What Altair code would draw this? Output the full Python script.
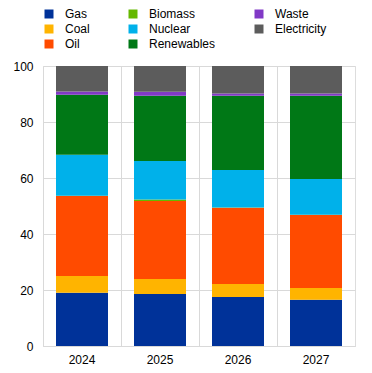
import altair as alt
import pandas as pd

years = ["2024", "2025", "2026", "2027"]
sources = ["Gas", "Coal", "Oil", "Biomass", "Nuclear", "Renewables", "Waste", "Electricity"]
colors = ["#003299", "#FFB400", "#FF4B00", "#65B800", "#00B1EA", "#007816", "#8139C6", "#5C5C5C"]

gas = [19.0, 18.6, 17.5, 16.5]
coal = [6.0, 5.3, 4.6, 4.2]
oil = [28.6, 27.9, 27.3, 26.1]
biomass = [0.1, 0.5, 0.1, 0.1]
nuclear = [14.6, 13.8, 13.4, 12.7]
renewables = [21.4, 23.3, 26.5, 29.8]
waste = [1.2, 1.4, 0.8, 0.8]
electricity = [9.1, 9.2, 9.8, 9.8]

series = [gas, coal, oil, biomass, nuclear, renewables, waste, electricity]
rows = []
for si, (name, vals) in enumerate(zip(sources, series)):
    for y, v in zip(years, vals):
        rows.append({"year": y, "source": name, "value": v, "order": si})
df = pd.DataFrame(rows)

font = "Liberation Sans"

chart = alt.Chart(df).mark_bar(width=alt.RelativeBandSize(52 / 78)).encode(
    x=alt.X("year:N", title=None, sort=years,
            scale=alt.Scale(paddingInner=0, paddingOuter=0),
            axis=alt.Axis(labelAngle=0, ticks=False, grid=True, bandPosition=0,
                          gridColor="#d9d9d9", domainColor="#d9d9d9",
                          labelPadding=8, labelFontSize=12, labelFont=font,
                          labelColor="#000000")),
    y=alt.Y("value:Q", title=None, stack="zero",
            scale=alt.Scale(domain=[0, 100], nice=False),
            axis=alt.Axis(values=[0, 20, 40, 60, 80, 100], ticks=False, domain=False,
                          gridColor="#d9d9d9", labelPadding=10, labelFontSize=12,
                          labelFont=font, labelColor="#000000")),
    color=alt.Color("source:N", sort=sources,
                    scale=alt.Scale(domain=sources, range=colors),
                    legend=alt.Legend(title=None, orient="none", legendX=0, legendY=-58,
                                      columns=3, columnPadding=37, rowPadding=3,
                                      direction="vertical",
                                      symbolType="square", symbolSize=81,
                                      symbolStrokeWidth=0, labelOffset=10,
                                      labelFontSize=12, labelFont=font,
                                      labelColor="#000000")),
    order=alt.Order("order:Q", sort="ascending"),
).properties(
    width=312, height=280,
    autosize=alt.AutoSizeParams(type="none"),
    padding={"left": 35, "top": 58, "right": 9, "bottom": 19},
).configure_view(stroke="#d9d9d9").configure(background="white")

chart.save("out.html", embed_options={"renderer": "svg", "actions": False})
